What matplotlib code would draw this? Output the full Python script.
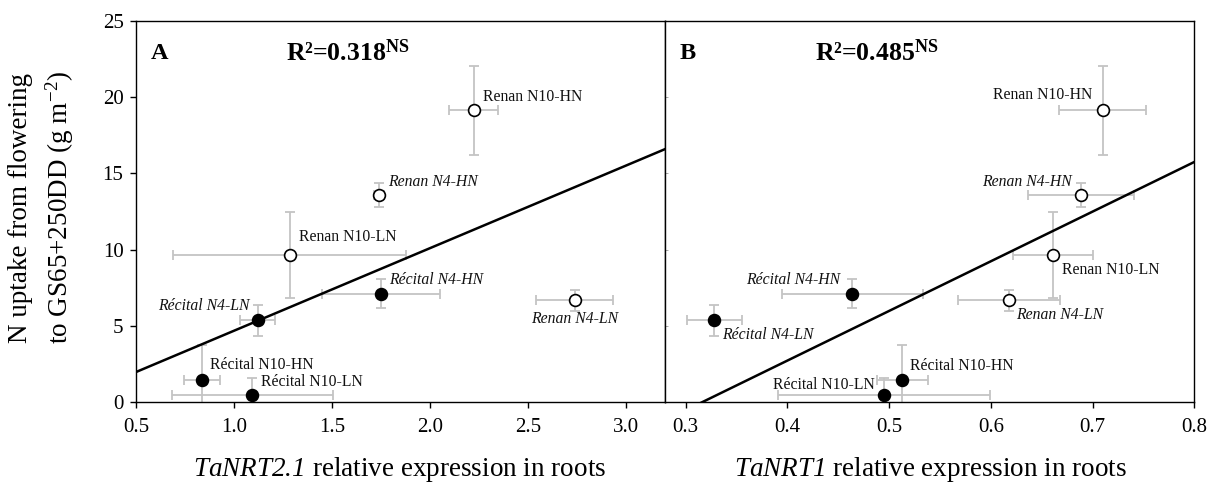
import matplotlib
matplotlib.use('Agg')
import matplotlib.pyplot as plt
import numpy as np

plt.rcParams['font.family'] = ['Liberation Serif', 'DejaVu Serif']
plt.rcParams['mathtext.fontset'] = 'custom'
plt.rcParams['mathtext.rm'] = 'Liberation Serif'
plt.rcParams['mathtext.it'] = 'Liberation Serif:italic'
plt.rcParams['mathtext.bf'] = 'Liberation Serif:bold'
# italic digits too: \mathit would set them upright
plt.rcParams['mathtext.sf'] = 'Liberation Serif:italic'

# treatments
labels = ['Renan N10-HN', 'Renan N4-HN', 'Renan N10-LN', 'Renan N4-LN',
          'Récital N4-HN', 'Récital N4-LN', 'Récital N10-HN', 'Récital N10-LN']
is_renan = [True, True, True, True, False, False, False, False]

# N uptake from flowering to GS65+250DD (g m-2)
uptake = [19.13, 13.59, 9.65, 6.67, 7.12, 5.36, 1.44, 0.47]
uptake_err = [2.9, 0.78, 2.82, 0.68, 0.94, 1.02, 2.32, 1.13]

# relative expression in roots
nrt21 = [2.224, 1.741, 1.285, 2.737, 1.751, 1.120, 0.838, 1.094]
nrt21_err = [0.125, 0.025, 0.594, 0.194, 0.300, 0.087, 0.091, 0.410]
nrt1 = [0.710, 0.689, 0.661, 0.618, 0.464, 0.328, 0.513, 0.495]
nrt1_err = [0.043, 0.052, 0.039, 0.050, 0.069, 0.027, 0.025, 0.104]

r2_text = ['R²=0.318', 'R²=0.485']

# label offsets in pixels (dx, dy) and horizontal alignment, per panel
offs_a = [(9, 13, 'left'), (9, 13, 'left'), (9, 18, 'left'), (0, -19, 'center'),
          (8, 14, 'left'), (-8, 14, 'right'), (8, 15, 'left'), (9, 13, 'left')]
offs_b = [(-10, 15, 'right'), (-10, 13, 'right'), (9, -15, 'left'), (7, -15, 'left'),
          (-12, 14, 'right'), (8, -15, 'left'), (8, 14, 'left'), (-9, 10, 'right')]


def draw_panel(ax, xs, xerr, xlim, letter, r2, offs):
    ax.errorbar(xs, uptake, xerr=xerr, yerr=uptake_err, fmt='none',
                ecolor='#c4c4c4', elinewidth=1.3, capsize=3.5, capthick=1.3, zorder=1)
    a, b = np.polyfit(xs, uptake, 1)
    lx = np.array(xlim)
    ax.plot(lx, a * lx + b, color='black', lw=1.8, zorder=2)
    for i in range(len(xs)):
        fc = 'white' if is_renan[i] else 'black'
        ax.plot(xs[i], uptake[i], 'o', ms=8.5, mfc=fc, mec='black', mew=1.2, zorder=3)
        dx, dy, ha = offs[i]
        style = 'italic' if 'N4' in labels[i] else 'normal'
        ax.annotate(labels[i], (xs[i], uptake[i]), xytext=(dx, dy),
                    textcoords='offset pixels', ha=ha, va='center',
                    fontsize=11.3, style=style, color='#111111')
    ax.set_xlim(xlim)
    ax.set_ylim(0, 25)
    ax.text(0.027, 0.915, letter, transform=ax.transAxes, fontsize=17.5,
            fontweight='bold', va='center')
    ax.text(0.283, 0.915, r2 + r'$^{\mathbf{NS}}$', transform=ax.transAxes,
            fontsize=18.5, fontweight='bold', va='center')
    for s in ax.spines.values():
        s.set_linewidth(1.0)
    ax.tick_params(axis='x', direction='out', length=4, width=1, labelsize=15, pad=7)


fig = plt.figure(figsize=(12.1, 4.87), dpi=100)
ax1 = fig.add_axes([0.1124, 0.1739, 0.4374, 0.7836])
ax2 = fig.add_axes([0.5498, 0.1739, 0.4372, 0.7836])

draw_panel(ax1, nrt21, nrt21_err, (0.5, 3.2), 'A', r2_text[0], offs_a)
draw_panel(ax2, nrt1, nrt1_err, (0.28, 0.8), 'B', r2_text[1], offs_b)

ax1.set_xticks([0.5, 1.0, 1.5, 2.0, 2.5, 3.0])
ax1.set_xticklabels(['0.5', '1.0', '1.5', '2.0', '2.5', '3.0'])
ax1.set_yticks([0, 5, 10, 15, 20, 25])
ax1.tick_params(axis='y', direction='out', length=4, width=1, labelsize=15, pad=5)
ax2.set_xticks([0.3, 0.4, 0.5, 0.6, 0.7, 0.8])
ax2.set_xticklabels(['0.3', '0.4', '0.5', '0.6', '0.7', '0.8'])
ax2.set_yticks([0, 5, 10, 15, 20, 25])
ax2.tick_params(axis='y', direction='in', length=2, width=0.6, color='#999999', labelleft=False)

fig.text(400 / 1210, 1 - 470 / 487, r'$\mathsf{TaNRT2.1}$ relative expression in roots',
         fontsize=19.5, ha='center', va='center')
fig.text(930 / 1210, 1 - 470 / 487, r'$\mathsf{TaNRT1}$ relative expression in roots',
         fontsize=19.5, ha='center', va='center')
fig.text(42 / 1210, 1 - 208 / 487, 'N uptake from flowering\nto GS65+250DD (g m$^{-2}$)',
         fontsize=19.5, rotation=90, ha='center', va='center', multialignment='center',
         linespacing=1.4)

fig.savefig('out.png', dpi=100)
